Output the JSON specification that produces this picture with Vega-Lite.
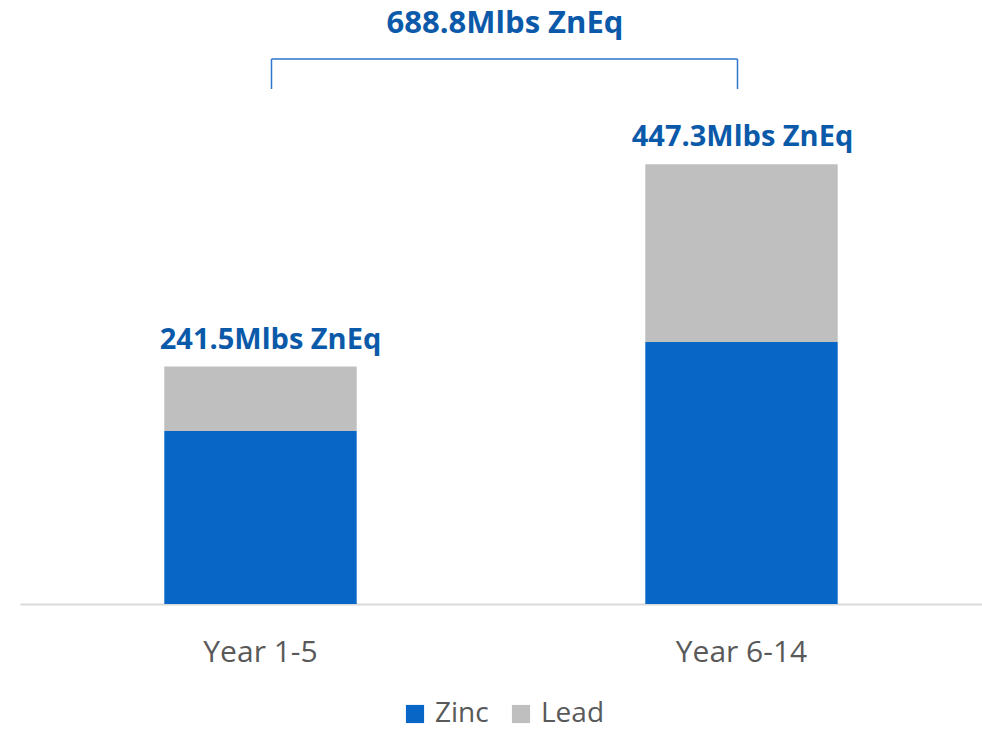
{
  "$schema": "https://vega.github.io/schema/vega-lite/v6.json",
  "width": 962,
  "height": 554,
  "autosize": {"type": "none"},
  "padding": {"left": 20, "top": 50, "right": 0, "bottom": 127},
  "background": "white",
  "config": {"view": {"stroke": null}, "font": "Open Sans"},
  "title": {"text": "688.8Mlbs ZnEq", "fontSize": 31, "fontWeight": "bold", "color": "#0B5AAA", "anchor": "middle", "offset": 10, "font": "Open Sans", "dx": 4},
  "datasets": {
    "bars": [
      {"period": "Year 1-5", "metal": "Zinc", "value": 176.0},
      {"period": "Year 1-5", "metal": "Lead", "value": 65.5},
      {"period": "Year 6-14", "metal": "Zinc", "value": 266.5},
      {"period": "Year 6-14", "metal": "Lead", "value": 180.8}
    ],
    "totals": [
      {"period": "Year 1-5", "total": 241.5, "label": "241.5Mlbs ZnEq"},
      {"period": "Year 6-14", "total": 447.3, "label": "447.3Mlbs ZnEq"}
    ],
    "brace": [
      {"from": "Year 1-5", "to": "Year 6-14", "top": 554.4, "bottom": 523.9}
    ]
  },
  "encoding": {
    "x": {"field": "period", "type": "nominal", "sort": ["Year 1-5", "Year 6-14"],
      "scale": {"paddingInner": 0.6, "paddingOuter": 0.3},
      "axis": {"title": null, "labelAngle": 0, "ticks": false, "domainColor": "#D9D9D9", "domainWidth": 2, "labelFontSize": 30, "labelColor": "#595959", "labelPadding": 33, "labelFont": "Open Sans"}}
  },
  "layer": [
    {
      "data": {"name": "bars"},
      "mark": {"type": "bar"},
      "encoding": {
        "y": {"field": "value", "type": "quantitative", "stack": "zero", "scale": {"domain": [0, 563.6], "nice": false}, "axis": null},
        "color": {"field": "metal", "type": "nominal", "scale": {"domain": ["Zinc", "Lead"], "range": ["#0766C6", "#BFBFBF"]},
          "legend": {"title": null, "orient": "none", "direction": "horizontal", "legendX": 381, "legendY": 650, "symbolType": "square", "symbolSize": 330, "symbolStrokeWidth": 0, "symbolOpacity": 1, "labelFontSize": 28, "labelColor": "#595959", "labelFont": "Open Sans", "columnPadding": 18, "labelOffset": 6}}
      }
    },
    {
      "data": {"name": "totals"},
      "transform": [{"filter": "datum.period == 'Year 1-5'"}],
      "mark": {"type": "text", "fontSize": 29, "fontWeight": "bold", "color": "#0B5AAA", "baseline": "alphabetic", "dy": -18, "dx": 10},
      "encoding": {
        "y": {"field": "total", "type": "quantitative"},
        "text": {"field": "label", "type": "nominal"}
      }
    },
    {
      "data": {"name": "totals"},
      "transform": [{"filter": "datum.period == 'Year 6-14'"}],
      "mark": {"type": "text", "fontSize": 29, "fontWeight": "bold", "color": "#0B5AAA", "baseline": "alphabetic", "dy": -18, "dx": 1},
      "encoding": {
        "y": {"field": "total", "type": "quantitative"},
        "text": {"field": "label", "type": "nominal"}
      }
    },
    {
      "data": {"name": "brace"},
      "mark": {"type": "rule", "color": "#2E75C9", "strokeWidth": 1.5, "xOffset": 11, "x2Offset": -4},
      "encoding": {
        "x": {"field": "from", "type": "nominal"},
        "x2": {"field": "to"},
        "y": {"field": "top", "type": "quantitative"}
      }
    },
    {
      "data": {"name": "brace"},
      "mark": {"type": "rule", "color": "#2E75C9", "strokeWidth": 1.5, "xOffset": 11},
      "encoding": {
        "x": {"field": "from", "type": "nominal"},
        "y": {"field": "bottom", "type": "quantitative"},
        "y2": {"field": "top"}
      }
    },
    {
      "data": {"name": "brace"},
      "mark": {"type": "rule", "color": "#2E75C9", "strokeWidth": 1.5, "xOffset": -4},
      "encoding": {
        "x": {"field": "to", "type": "nominal"},
        "y": {"field": "bottom", "type": "quantitative"},
        "y2": {"field": "top"}
      }
    }
  ]
}
